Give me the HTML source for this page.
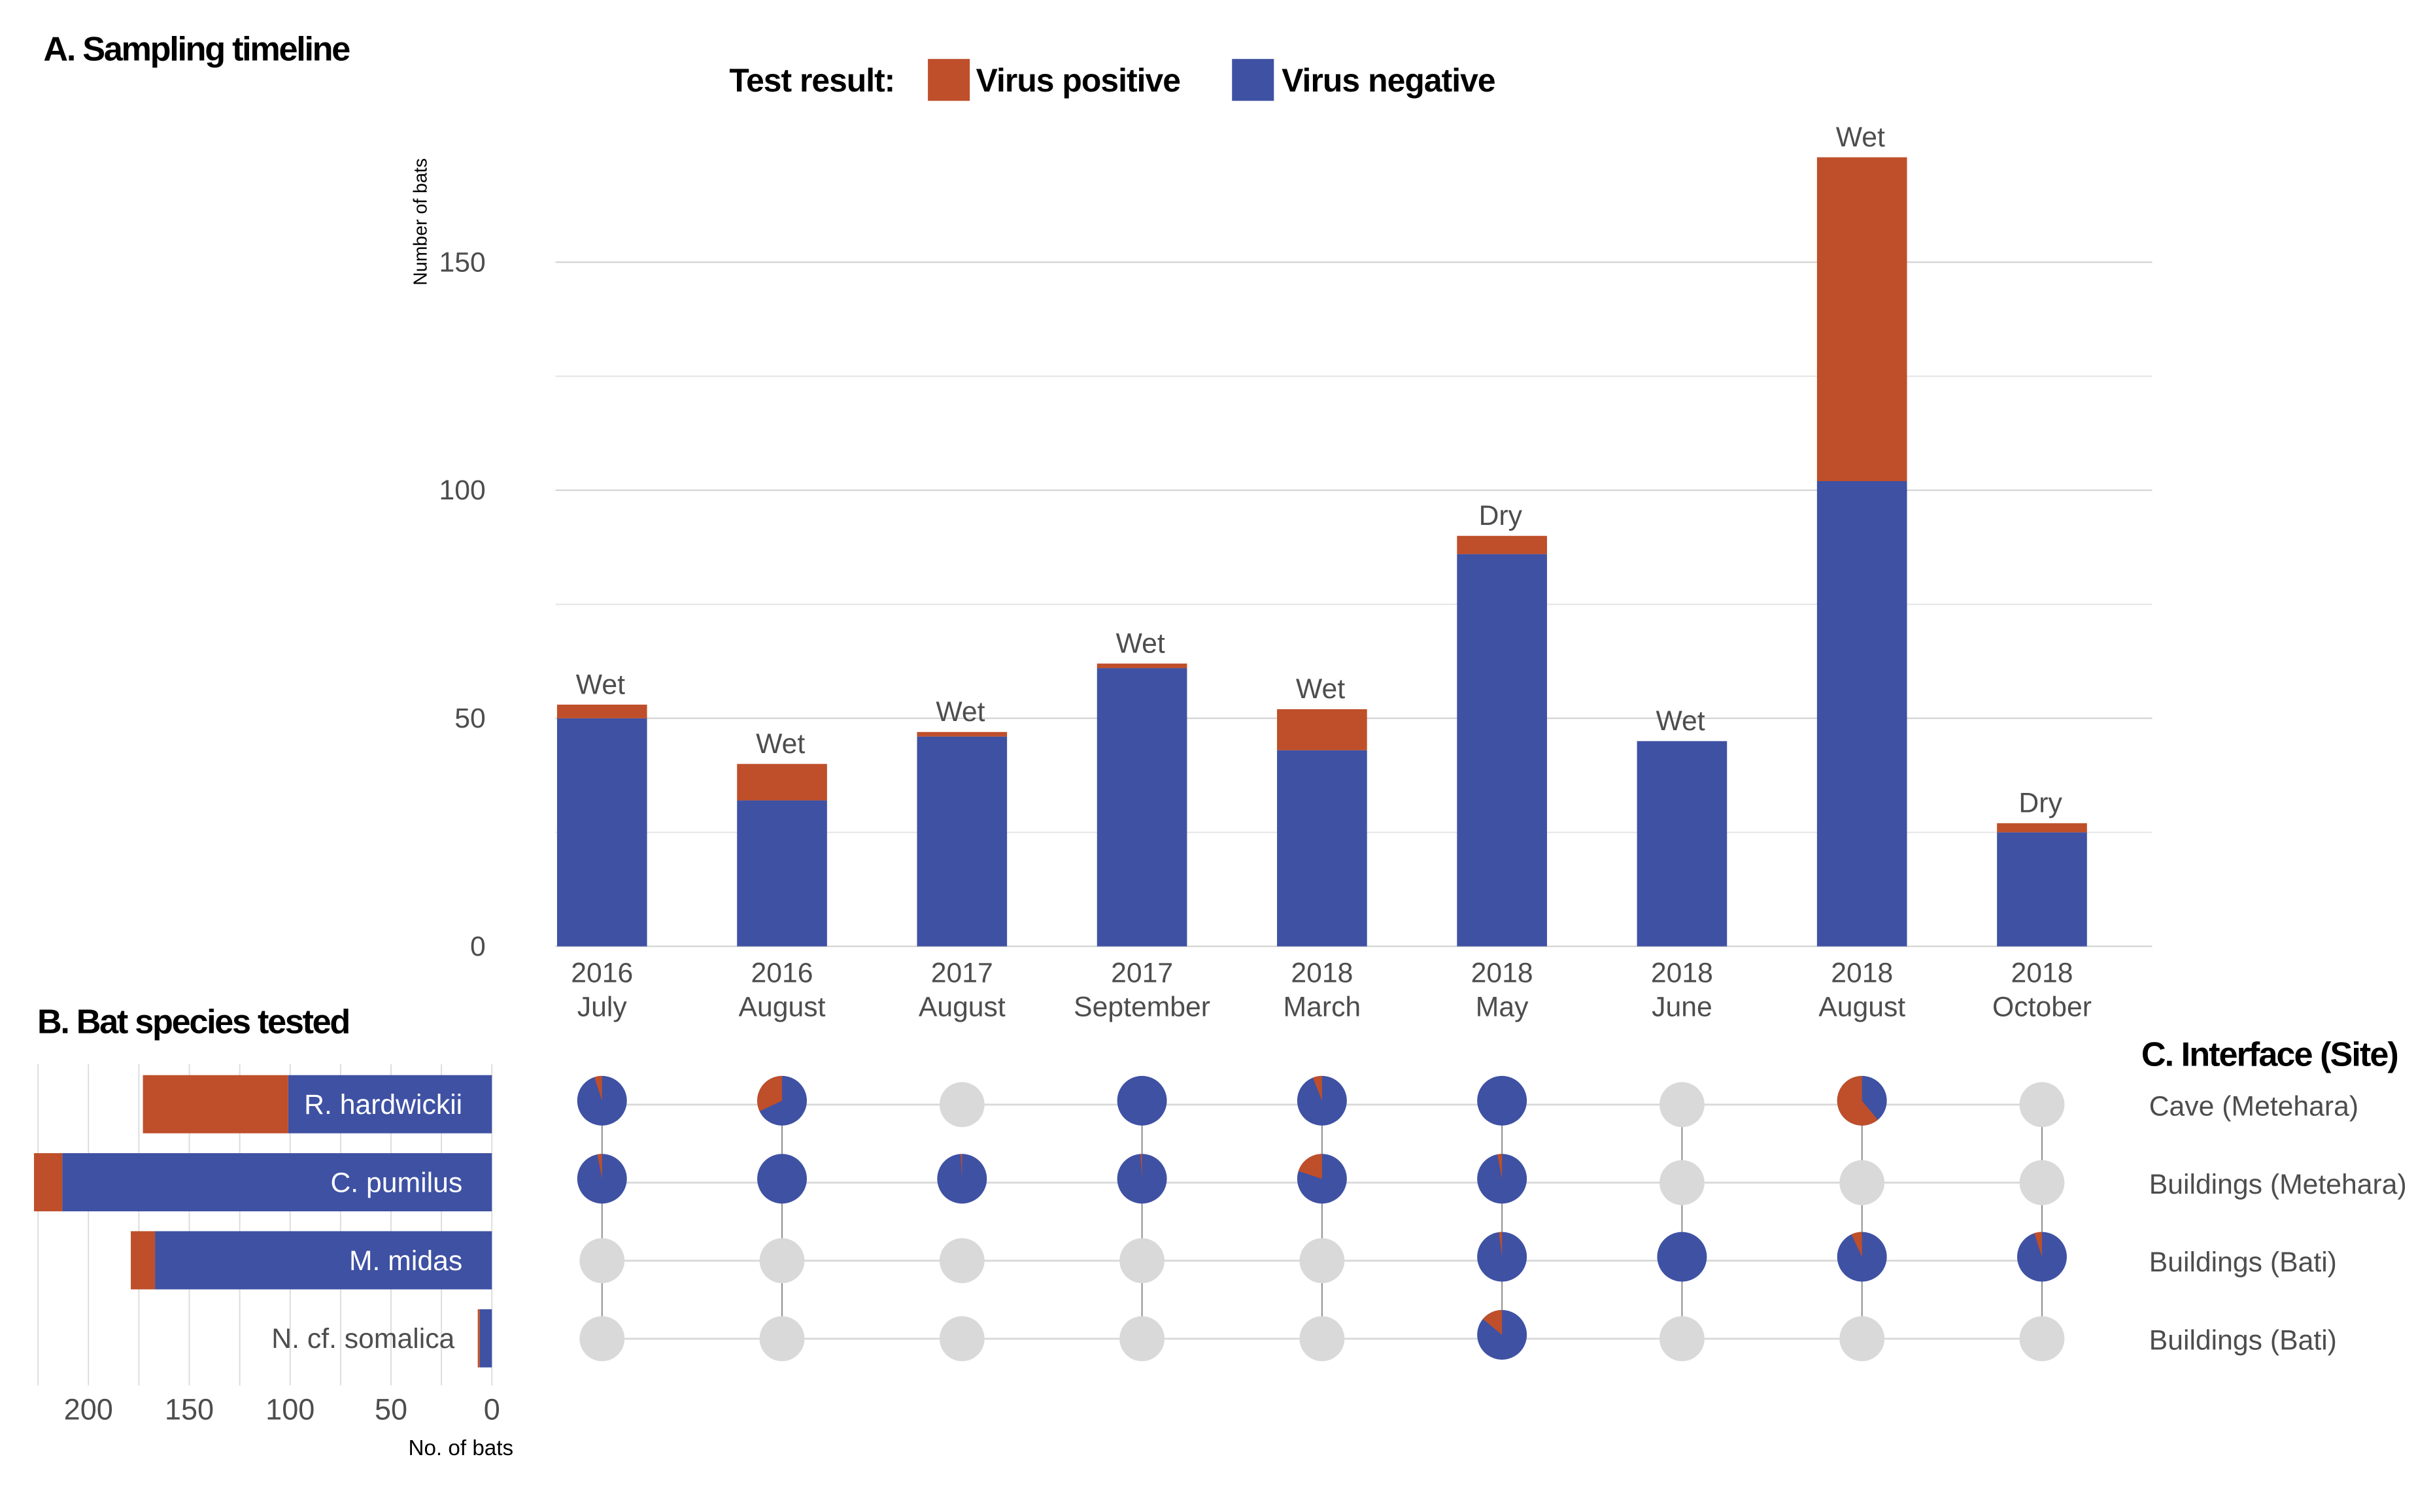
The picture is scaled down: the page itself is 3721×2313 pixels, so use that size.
<!DOCTYPE html>
<html><head><meta charset="utf-8"><style>
html,body{margin:0;padding:0;background:#fff;}
svg{display:block;font-family:"Liberation Sans",sans-serif;}
</style></head><body>
<svg id="fig" width="3721" height="2313" viewBox="0 0 1568 974.6" preserveAspectRatio="none" xmlns="http://www.w3.org/2000/svg"></svg>
<script>
// Panel A data
const periods = ["2016|July","2016|August","2017|August","2017|September","2018|March","2018|May","2018|June","2018|August","2018|October"];
const negValues = [50,32,46,61,43,86,45,102,25];
const posValues = [3,8,1,1,9,4,0,71,2];
const seasons = ["Wet","Wet","Wet","Wet","Wet","Dry","Wet","Wet","Dry"];
const yTicks = [0,50,100,150];
const yMinor = [25,75,125];
// Panel B data
const species = ["R. hardwickii","C. pumilus","M. midas","N. cf. somalica"];
const speciesNeg = [101,213,167,6];
const speciesPos = [72,14,12,1];
const bTicks = [200,150,100,50,0];
// Panel C data (positive fraction; null = not sampled)
const sites = ["Cave (Metehara)","Buildings (Metehara)","Buildings (Bati)","Buildings (Bati)"];
const siteFractions = [
  [0.05,0.32,null,0,0.06,0,null,0.61,null],
  [0.03,0,0.01,0.01,0.2,0.03,null,null,null],
  [null,null,null,null,null,0.02,0,0.07,0.05],
  [null,null,null,null,null,0.14,null,null,null]
];

const NS="http://www.w3.org/2000/svg";
const svg=document.getElementById('fig');
const ORANGE="#BE4F2A", BLUE="#3F51A3", GREY="#4d4d4d";
function mk(tag,attrs,parent){const e=document.createElementNS(NS,tag);for(const k in attrs)e.setAttribute(k,attrs[k]);(parent||svg).appendChild(e);return e;}
function txt(s,x,y,size,attrs,parent){const e=mk('text',Object.assign({x:x,y:y,'font-size':size,fill:GREY},attrs||{}),parent);e.textContent=s;return e;}

// Scales
const xA=i=>388+i*116;
const yA=v=>610-v*2.94;
const xB=v=>317-v*1.3;
const rowY=r=>712+r*50.3;

// Titles
let t;
t=txt("A. Sampling timeline",28,39,22,{fill:"#000",'font-weight':"bold",textLength:198});

t=txt("B. Bat species tested",24,666,22,{fill:"#000",'font-weight':"bold",textLength:202});

t=txt("C. Interface (Site)",1380,687,22,{fill:"#000",'font-weight':"bold",textLength:166});


// Legend
const lg=mk('g',{});

txt("Test result:",470,59,21,{fill:"#000",'font-weight':"bold",textLength:107},lg);
let r1=mk('rect',{x:598,y:38,width:27,height:27,fill:ORANGE},lg);

txt("Virus positive",629,59,21,{fill:"#000",'font-weight':"bold",textLength:132},lg);
let r2=mk('rect',{x:794,y:38,width:27,height:27,fill:BLUE},lg);

txt("Virus negative",826,59,21,{fill:"#000",'font-weight':"bold",textLength:138},lg);

// Panel A grid
const ga=mk('g',{});

yMinor.forEach(v=>{mk('line',{x1:358,x2:1387,y1:yA(v),y2:yA(v),stroke:"#e3e3e3","stroke-width":0.8},ga);});
yTicks.forEach(v=>{
  mk('line',{x1:358,x2:1387,y1:yA(v),y2:yA(v),stroke:"#d6d6d6","stroke-width":1},ga);
  const l=txt(String(v),313,yA(v)+6,18,{'text-anchor':"end"},ga);
  
});
t=txt("Number of bats",0,0,12,{fill:"#000",transform:"translate(275,143) rotate(-90)",'text-anchor':"middle"},ga);

periods.forEach((p,i)=>{
  const x=xA(i), n=negValues[i], pv=posValues[i];
  const b=mk('rect',{x:x-29,y:yA(n),width:58,height:yA(0)-yA(n),fill:BLUE},ga);
  
  if(pv>0){const o=mk('rect',{x:x-29,y:yA(n+pv),width:58,height:yA(n)-yA(n+pv),fill:ORANGE},ga);
  }
  const s=txt(seasons[i],x-1,yA(n+pv)-7,18,{'text-anchor':"middle"},ga);
  
  const [yr,mo]=p.split('|');
  const a=txt(yr,x,633,18,{'text-anchor':"middle"},ga);
  
  const m=txt(mo,x,655,18,{'text-anchor':"middle"},ga);
  
});

// Panel B
const gb=mk('g',{});

for(let v=0;v<=225;v+=25){mk('line',{x1:xB(v),x2:xB(v),y1:686,y2:893,stroke:"#dcdcdc","stroke-width":0.8},gb);}
bTicks.forEach(v=>{const l=txt(String(v),xB(v),915,19,{'text-anchor':"middle"},gb);
  });
t=txt("No. of bats",297,938,14,{fill:"#000",'text-anchor':"middle"},gb);

species.forEach((s,i)=>{
  const y0=693+i*50.3, h=37.5, n=speciesNeg[i], p=speciesPos[i];
  const b=mk('rect',{x:xB(n),y:y0,width:xB(0)-xB(n),height:h,fill:BLUE},gb);
  
  const o=mk('rect',{x:xB(n+p),y:y0,width:xB(n)-xB(n+p),height:h,fill:ORANGE},gb);
  
  const inside=(xB(0)-xB(n))>120;
  const l=txt(s,inside?298:293,y0+25,18,{'text-anchor':"end",fill:inside?"#fff":GREY},gb);
  
});

// Panel C
const gc=mk('g',{});

sites.forEach((s,r)=>{
  mk('line',{x1:388,x2:1320,y1:rowY(r),y2:rowY(r),stroke:"#d9d9d9","stroke-width":1.2},gc);
  const l=txt(s,1385,rowY(r)+7,18,{},gc);
  
});
periods.forEach((p,i)=>{
  if(i!==2) mk('line',{x1:xA(i),x2:xA(i),y1:rowY(0),y2:rowY(3),stroke:"#888","stroke-width":0.8},gc);
});
siteFractions.forEach((row,r)=>{
  row.forEach((f,i)=>{
    const cx=xA(i);
    if(f===null){
      const c=mk('circle',{cx:cx,cy:rowY(r),r:14.5,fill:"#d9d9d9"},gc);
      
      return;
    }
    const cy=rowY(r)-2.5, R=16;
    const c=mk('circle',{cx:cx,cy:cy,r:R,fill:BLUE},gc);
    
    if(f>0){
      const ang=f*2*Math.PI;
      const ex=cx-R*Math.sin(ang), ey=cy-R*Math.cos(ang);
      const large=f>0.5?1:0;
      const w=mk('path',{d:`M${cx},${cy} L${cx},${cy-R} A${R},${R} 0 ${large} 0 ${ex},${ey} Z`,fill:ORANGE},gc);
      
    }
  });
});
</script>
</body></html>
